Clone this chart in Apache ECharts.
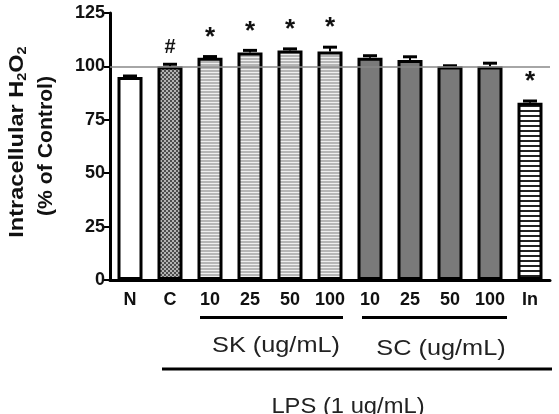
<!DOCTYPE html>
<html>
<head>
<meta charset="utf-8">
<script src="https://cdn.jsdelivr.net/npm/echarts@6/dist/echarts.min.js"></script>
<style>
  html, body { margin: 0; padding: 0; background: #fff; }
  #chart { width: 559px; height: 414px; }
</style>
</head>
<body>
<div id="chart"></div>
<script>
var dom = document.getElementById("chart");
var myChart = echarts.init(dom);

// data
var categories = ['N', 'C', '10', '25', '50', '100', '10', '25', '50', '100', 'In'];
var values = [95, 100, 104, 106.5, 107.5, 107, 104, 103, 100, 100, 83];
var errors = [0.5, 1, 0.6, 1, 0.7, 2, 1, 1.5, 0.3, 1.5, 0.8];
var marks = ['', '#', '*', '*', '*', '*', '', '', '', '', '*'];
var groups = ['N', 'C', 'SK', 'SK', 'SK', 'SK', 'SC', 'SC', 'SC', 'SC', 'In'];
var yTicks = [0, 25, 50, 75, 100, 125];

var font = "'Liberation Sans', Arial, sans-serif";

function makePattern(w, h, draw) {
    var c = document.createElement('canvas');
    c.width = w;
    c.height = h;
    draw(c.getContext('2d'));
    return { image: c, repeat: 'repeat' };
}

var fills = {
    N: '#ffffff',
    C: makePattern(4, 4, function (ctx) {
        ctx.fillStyle = '#4d4d4d';
        ctx.fillRect(0, 0, 4, 4);
        ctx.fillStyle = '#b4b4b4';
        ctx.fillRect(0, 0, 2, 2);
        ctx.fillRect(2, 2, 2, 2);
    }),
    SK: makePattern(4, 3, function (ctx) {
        ctx.fillStyle = '#b6b6b6';
        ctx.fillRect(0, 0, 4, 3);
        ctx.fillStyle = '#efefef';
        ctx.fillRect(0, 0, 4, 1);
    }),
    SC: '#7a7a7a',
    In: makePattern(4, 5, function (ctx) {
        ctx.fillStyle = '#ffffff';
        ctx.fillRect(0, 0, 4, 5);
        ctx.fillStyle = '#222222';
        ctx.fillRect(0, 0, 4, 2);
    })
};

var barData = values.map(function (v, i) {
    return {
        value: v,
        itemStyle: { color: fills[groups[i]] }
    };
});

var errData = values.map(function (v, i) {
    return [i, v, errors[i]];
});

function renderErr(params, api) {
    var i = api.value(0);
    var v = api.value(1);
    var e = api.value(2);
    var mark = marks[params.dataIndex];
    var base = api.coord([i, v]);
    var top = api.coord([i, v + e]);
    var children = [
        { type: 'line', shape: { x1: top[0], y1: base[1], x2: top[0], y2: top[1] }, style: { stroke: '#000', lineWidth: 2 } },
        { type: 'line', shape: { x1: top[0] - 7, y1: top[1], x2: top[0] + 7, y2: top[1] }, style: { stroke: '#000', lineWidth: 3 } }
    ];
    if (mark) {
        children.push({
            type: 'text',
            x: top[0],
            y: top[1] - (mark == '#' ? 17 : 19),
            style: {
                text: mark,
                font: (mark == '#' ? 'bold 20px ' : 'bold 26px ') + font,
                fill: '#111',
                align: 'center',
                verticalAlign: 'middle'
            }
        });
    }
    return { type: 'group', children: children };
}

var option = {
    animation: false,
    grid: { left: 110, right: 9, top: 13, bottom: 134 },
    xAxis: {
        type: 'category',
        data: categories,
        axisLine: { lineStyle: { color: '#000', width: 3 } },
        axisTick: { alignWithLabel: true, length: 6, lineStyle: { color: '#000', width: 2 } },
        axisLabel: { interval: 0, color: '#111', fontSize: 18, fontWeight: 'bold', fontFamily: 'Liberation Sans', margin: 11 }
    },
    yAxis: {
        type: 'value',
        min: 0,
        max: 125,
        interval: 25,
        splitLine: { show: false },
        axisLine: { show: true, lineStyle: { color: '#000', width: 3 } },
        axisTick: { show: true, length: 6, lineStyle: { color: '#000', width: 2 } },
        axisLabel: {
            color: '#111', fontSize: 18, fontWeight: 'bold', fontFamily: 'Liberation Sans', margin: 5,
            formatter: function (v) { return yTicks.indexOf(v) >= 0 ? String(v) : ''; }
        }
    },
    series: [
        {
            type: 'line',
            data: [],
            z: 1,
            markLine: {
                silent: true,
                symbol: 'none',
                label: { show: false },
                lineStyle: { color: '#888', width: 1.5, type: 'solid' },
                data: [{ yAxis: 100 }]
            }
        },
        {
            type: 'bar',
            data: barData,
            barWidth: 25,
            z: 3,
            itemStyle: { borderColor: '#000', borderWidth: 3 }
        },
        {
            type: 'custom',
            data: errData,
            z: 4,
            renderItem: renderErr
        }
    ],
    graphic: [
        {
            type: 'text', x: 17, y: 142, rotation: Math.PI / 2, scaleX: 1.12,
            style: {
                text: '{a|Intracellular H}{s|2}{a|O}{s|2}',
                align: 'center', verticalAlign: 'middle',
                rich: {
                    a: { font: 'bold 21px ' + font, fill: '#111', lineHeight: 24 },
                    s: { font: 'bold 13px ' + font, fill: '#111', verticalAlign: 'bottom', lineHeight: 14 }
                }
            }
        },
        {
            type: 'text', x: 46, y: 146, rotation: Math.PI / 2, scaleX: 1.06,
            style: { text: '(% of Control)', font: 'bold 20px ' + font, fill: '#111', align: 'center', verticalAlign: 'middle' }
        },
        { type: 'line', shape: { x1: 200, y1: 317.5, x2: 343, y2: 317.5 }, style: { stroke: '#000', lineWidth: 3 } },
        { type: 'line', shape: { x1: 362, y1: 317.5, x2: 507, y2: 317.5 }, style: { stroke: '#000', lineWidth: 3 } },
        { type: 'line', shape: { x1: 162, y1: 369, x2: 552, y2: 369 }, style: { stroke: '#000', lineWidth: 3 } },
        {
            type: 'text', x: 276, y: 346, scaleX: 1.15,
            style: { text: 'SK (ug/mL)', font: 'normal 22px ' + font, fill: '#222', align: 'center', verticalAlign: 'middle' }
        },
        {
            type: 'text', x: 441, y: 349, scaleX: 1.15,
            style: { text: 'SC (ug/mL)', font: 'normal 22px ' + font, fill: '#222', align: 'center', verticalAlign: 'middle' }
        },
        {
            type: 'text', x: 348, y: 407, scaleX: 1.08,
            style: { text: 'LPS (1 ug/mL)', font: 'normal 22px ' + font, fill: '#222', align: 'center', verticalAlign: 'middle' }
        }
    ]
};

if (option && typeof option === 'object') {
    myChart.setOption(option);
}
</script>
</body>
</html>
